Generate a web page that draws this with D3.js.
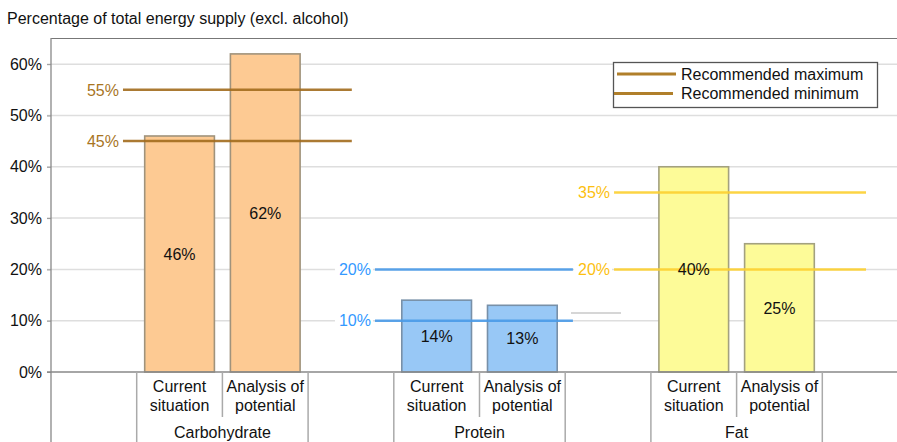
<!DOCTYPE html>
<html>
<head>
<meta charset="utf-8">
<script src="https://cdn.jsdelivr.net/npm/d3@7"></script>
<style>
  html, body { margin: 0; padding: 0; background: #fff; }
  svg { display: block; font-family: "Liberation Sans", Arial, Helvetica, sans-serif; }
</style>
</head>
<body>
<svg id="chart" width="897" height="442"></svg>
<script>
// ---- data ----
const categories = ["Carbohydrate", "Protein", "Fat"];
const subLabels = [["Current", "situation"], ["Analysis of", "potential"]];
const currentSituation = [46, 14, 40];
const analysisOfPotential = [62, 13, 25];
const recommendedMax = [55, 20, 35];
const recommendedMin = [45, 10, 20];
const yTicks = [0, 10, 20, 30, 40, 50, 60];
const titleText = "Percentage of total energy supply (excl. alcohol)";
const legendLabels = ["Recommended maximum", "Recommended minimum"];

// ---- styling / layout ----
const fs = 16;
const fills = ["#fdca93", "#98c8f6", "#fdfb98"];
const strokes = ["#a0937c", "#7890a8", "#a3a17f"];
const refColors = ["#a36c1d", "#4a9be8", "#fcd030"];
const refLabelColors = ["#a8751f", "#3399ff", "#fcbf10"];
// reference line extents in slot units per category
const refExtent = [[0.84, 3.51], [3.78, 6.09], [6.57, 9.51]];

const svg = d3.select("#chart");
const plotLeft = 51, plotTop = 38, plotBottom = 372;
const x = d3.scaleLinear().domain([0, 10]).range([plotLeft, 908]);
const y = d3.scaleLinear().domain([0, 65.1]).range([plotBottom, plotTop]);
const slotW = x(1) - x(0);
const barPad = 8;

// title
svg.append("text").attr("x", 7).attr("y", 24).attr("font-size", fs).attr("fill", "#111").text(titleText);

// top border
svg.append("line").attr("x1", plotLeft).attr("x2", 897).attr("y1", plotTop + 0.5).attr("y2", plotTop + 0.5)
  .attr("stroke", "#777").attr("stroke-width", 1.2);

// gridlines
svg.append("g").selectAll("line").data(yTicks.filter(d => d > 0)).join("line")
  .attr("x1", plotLeft - 4).attr("x2", 897)
  .attr("y1", d => y(d)).attr("y2", d => y(d))
  .attr("stroke", "#dedede").attr("stroke-width", 1.5);

// y axis
const yAxis = d3.axisLeft(y).tickValues(yTicks).tickFormat(d => d + "%").tickSize(4).tickPadding(5);
const gy = svg.append("g").attr("transform", `translate(${plotLeft},0)`).call(yAxis);
gy.select(".domain").remove();
gy.selectAll(".tick line").attr("stroke", "#999");
gy.selectAll(".tick text").attr("font-size", fs).attr("fill", "#111").attr("font-family", "Liberation Sans, Arial, sans-serif");
svg.append("line").attr("x1", plotLeft).attr("x2", plotLeft).attr("y1", plotTop).attr("y2", 442)
  .attr("stroke", "#888").attr("stroke-width", 1.3);

// bars
const barData = [];
categories.forEach((c, g) => {
  [currentSituation[g], analysisOfPotential[g]].forEach((v, i) => {
    barData.push({ g, i, v, slot: 1 + 3 * g + i });
  });
});

svg.append("g").selectAll("rect").data(barData).join("rect")
  .attr("x", d => x(d.slot) + barPad)
  .attr("width", slotW - 2 * barPad)
  .attr("y", d => y(d.v))
  .attr("height", d => y(0) - y(d.v))
  .attr("fill", d => fills[d.g])
  .attr("stroke", d => strokes[d.g])
  .attr("stroke-width", 1.6);

// stray grey line
svg.append("line").attr("x1", 571).attr("x2", 621).attr("y1", y(11.5)).attr("y2", y(11.5))
  .attr("stroke", "#c8c8c8").attr("stroke-width", 1.5);

// reference lines
categories.forEach((c, g) => {
  [recommendedMax[g], recommendedMin[g]].forEach(v => {
    const x1 = x(refExtent[g][0]), x2 = x(refExtent[g][1]);
    svg.append("rect").attr("x", x1 - 40).attr("y", y(v) - 8).attr("width", 38).attr("height", 16).attr("fill", "#fff");
    svg.append("line").attr("x1", x1).attr("x2", x2).attr("y1", y(v)).attr("y2", y(v))
      .attr("stroke", refColors[g]).attr("stroke-width", 2.5).attr("opacity", 0.9);
    svg.append("text").attr("x", x1 - 4).attr("y", y(v)).attr("dy", "0.36em")
      .attr("text-anchor", "end").attr("font-size", fs).attr("fill", refLabelColors[g]).text(v + "%");
  });
});

// bar labels
svg.append("g").selectAll("text").data(barData).join("text")
  .attr("x", d => x(d.slot + 0.5))
  .attr("y", d => (y(d.v) + y(0)) / 2)
  .attr("dy", "0.36em")
  .attr("text-anchor", "middle").attr("font-size", fs).attr("fill", "#111")
  .text(d => d.v + "%");

// baseline
svg.append("line").attr("x1", plotLeft - 4).attr("x2", 897).attr("y1", y(0)).attr("y2", y(0))
  .attr("stroke", "#888").attr("stroke-width", 1.3);

// category axis
categories.forEach((c, g) => {
  const s0 = 1 + 3 * g;
  [s0, s0 + 2].forEach(s => {
    svg.append("line").attr("x1", x(s)).attr("x2", x(s)).attr("y1", y(0)).attr("y2", 442)
      .attr("stroke", "#aaa").attr("stroke-width", 1.5);
  });
  svg.append("line").attr("x1", x(s0 + 1)).attr("x2", x(s0 + 1)).attr("y1", y(0)).attr("y2", 417)
    .attr("stroke", "#aaa").attr("stroke-width", 1.5);
  subLabels.forEach((lines, i) => {
    lines.forEach((t, k) => {
      svg.append("text").attr("x", x(s0 + i + 0.5)).attr("y", 392 + k * 19)
        .attr("text-anchor", "middle").attr("font-size", fs).attr("fill", "#111").text(t);
    });
  });
  svg.append("text").attr("x", x(s0 + 1)).attr("y", 438)
    .attr("text-anchor", "middle").attr("font-size", fs).attr("fill", "#111").text(c);
});

// legend
const lg = svg.append("g");
lg.append("rect").attr("x", 613.5).attr("y", 62.5).attr("width", 264).attr("height", 45)
  .attr("fill", "#fff").attr("stroke", "#555").attr("stroke-width", 1.3);
legendLabels.forEach((t, i) => {
  const ly = 74 + i * 19.5;
  lg.append("line").attr("x1", 617 - i * 3).attr("x2", 676 - i * 3).attr("y1", ly).attr("y2", ly)
    .attr("stroke", "#b07f2a").attr("stroke-width", 2.8);
  lg.append("text").attr("x", 681).attr("y", ly).attr("dy", "0.36em")
    .attr("font-size", fs).attr("fill", "#111").text(t);
});
</script>
</body>
</html>
